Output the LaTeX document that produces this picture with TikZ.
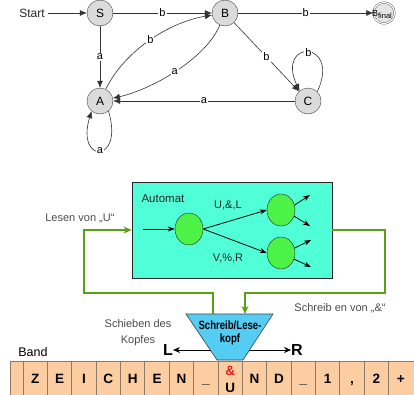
\documentclass[tikz,border=0pt]{standalone}
\usepackage{fontspec}
\setmainfont{Liberation Sans}
\newfontfamily\narrowfont[FakeStretch=0.8]{Liberation Sans}
\usetikzlibrary{arrows.meta,shapes.geometric}
\definecolor{aquafill}{HTML}{50FFD7}
\definecolor{stgreen}{HTML}{4CF246}
\definecolor{headblue}{HTML}{55CCF2}
\definecolor{tapefill}{HTML}{FCCDA0}
\definecolor{tapeline}{HTML}{8C7A66}
\definecolor{wire}{HTML}{5AA014}
\definecolor{ampred}{HTML}{E02020}
\begin{document}
\begin{tikzpicture}[x=1pt,y=-1pt,
  st/.style={circle,draw=black!75,fill=black!14,minimum size=26pt,inner sep=0pt,font=\fontsize{12}{12}\selectfont},
  edge/.style={draw=black!80,line width=0.6pt,-{Latex[length=7pt,width=6pt]}},
  lbl/.style={fill=white,inner sep=1pt,font=\fontsize{11}{11}\selectfont},
  gst/.style={ellipse,draw=black!85,fill=stgreen,minimum width=28pt,minimum height=32pt,inner sep=0pt},
  iarrow/.style={draw=black,line width=0.8pt,-{Stealth[length=7pt,width=5pt]}},
  wirestyle/.style={draw=wire,line width=2pt},
  greytext/.style={text=black!70,font=\fontsize{11}{13}\selectfont},
  tapech/.style={anchor=base,font=\bfseries\fontsize{13.5}{13.5}\selectfont,inner sep=0pt}
]
\useasboundingbox (0,0) rectangle (414,394);
\fill[white] (0,0) rectangle (414,394);

% ---- top automaton ----
\node[font=\fontsize{12}{12}\selectfont,text=black!85] (start) at (32,13) {Start};
\node[st] (S) at (100,13) {S};
\node[st] (B) at (225,13) {B};
\node[circle,draw=black!70,double=white,double distance=1.2pt,fill=black!10,minimum size=21pt,inner sep=0pt] (F) at (384,13) {};
\node[inner sep=0pt] (Ft) at (382,14) {\fontsize{9}{9}\selectfont B\raisebox{-2pt}{\fontsize{7.5}{7.5}\selectfont final}};
\node[st] (A) at (100,101) {A};
\node[st] (C) at (308,101) {C};

\draw[edge] (start) -- (S);
\draw[edge] (S) -- node[lbl]{b} (B);
\draw[edge] (B) -- node[lbl]{b} (F);
\draw[edge] (S) -- node[lbl]{a} (A);
\draw[edge] (A) .. controls (125,50) and (170,22) .. (B) node[lbl,midway]{b};
\draw[edge] (B) .. controls (205,60) and (150,90) .. (A) node[lbl,midway]{a};
\draw[edge] (B) -- node[lbl]{b} (C);
\draw[edge] (C) -- node[lbl]{a} (A);
\draw[edge] (C.45) .. controls +(24,-52) and +(-24,-52) .. (C.130) node[lbl,midway]{b};
\draw[edge] (A.-50) .. controls +(16,53) and +(-16,53) .. (A.-130) node[lbl,midway]{a};

% ---- Turing machine ----
\node[draw=black!85,line width=0.8pt,fill=aquafill,minimum width=200pt,minimum height=96pt,inner sep=0pt] (box) at (232,230) {};
\node[anchor=west,font=\fontsize{11.5}{12}\selectfont,text=black!85] (autlbl) at (138,199) {Automat};
\node[gst] (q1) at (189,229) {};
\node[gst] (q2) at (281,210) {};
\node[gst] (q3) at (281,253) {};
\coordinate (in0) at (143,229);
\draw[iarrow] (in0) -- (q1);
\draw[iarrow] (q1.east) -- (q2.west);
\draw[iarrow] (q1.east) -- (q3.west);
\node[font=\fontsize{11}{11}\selectfont,text=black!85] (l1) at (228,205) {U,\&,L};
\node[font=\fontsize{11}{11}\selectfont,text=black!85] (l2) at (228,258) {V,\%,R};
\coordinate (o1) at (310,195);
\coordinate (o2) at (310,226);
\coordinate (o3) at (311,240);
\coordinate (o4) at (311,267);
\draw[iarrow] (q2.20) -- (o1);
\draw[iarrow] (q2.-25) -- (o2);
\draw[iarrow] (q3.20) -- (o3);
\draw[iarrow] (q3.-25) -- (o4);

% head
\coordinate (hTL) at (186,314);
\coordinate (hTR) at (273,314);
\coordinate (hBR) at (243,360);
\coordinate (hBL) at (217,360);
\draw[fill=headblue,draw=black!75,line width=0.6pt] (hTL) -- (hTR) -- (hBR) -- (hBL) -- cycle;
\node[align=center,font=\narrowfont\bfseries\fontsize{12}{13}\selectfont,inner sep=0pt] (head) at (230,333) {Schreib/Lese-\\kopf};
\coordinate (rd) at (213,314);
\coordinate (wr) at (245,314);

% wires
\draw[wirestyle,-{Stealth[length=8pt,width=7pt]}] (rd) -- (213,293) -| (84,230) -- (box.west);
\draw[wirestyle,-{Stealth[length=8pt,width=7pt]}] (box.east) -- (385,230) |- (245,293) -- (wr);

\node[greytext,anchor=east] (lesen) at (118,218) {Lesen von „U“};
\node[greytext] (schreib) at (340,308) {Schreib en von „\&“};
\node[greytext,align=center,font=\fontsize{11}{16}\selectfont] (schieb) at (138,333) {Schieben des\\Kopfes};

% L / R
\node[font=\bfseries\fontsize{16}{16}\selectfont,inner sep=0pt] (L) at (168,350) {L};
\node[font=\bfseries\fontsize{16}{16}\selectfont,inner sep=0pt] (R) at (297,350) {R};
\coordinate (hl) at (211,350);
\coordinate (hr) at (249,350);
\draw[draw=black,line width=0.6pt,-{Stealth[length=7pt,width=6pt]}] (hl) -- (L.east);
\draw[draw=black,line width=0.6pt,-{Stealth[length=7pt,width=6pt]}] (hr) -- (R.west);

% tape
\node[font=\fontsize{12.5}{12.5}\selectfont] (band) at (33,352) {Band};
\path[draw=tapeline,fill=tapefill,line width=0.6pt] (10,361.5) rectangle (420,400);
\foreach \i in {0,...,15} \draw[tapeline,line width=0.8pt] (23+24.375*\i,361.5) -- ++(0,34);
\foreach \ch [count=\i from 0] in {Z,E,I,C,H,E,N,\_} \node[tapech] (t\i) at (35.2+24.375*\i,383) {\ch};
\foreach \ch [count=\i from 9] in {N,D,\_,1,{,},2,+} \node[tapech] (t\i) at (35.2+24.375*\i,383) {\ch};
\node[tapech,text=ampred] (amp) at (230.2,375) {\&};
\node[tapech] (t8) at (230.2,392) {U};
\end{tikzpicture}
\end{document}
